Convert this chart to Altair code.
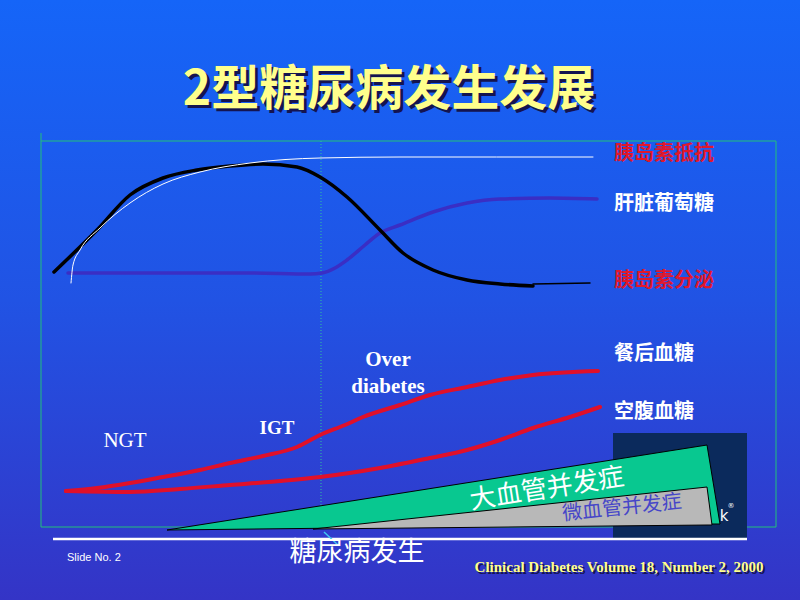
import altair as alt
import pandas as pd

W, H = 800, 600

# ---- data (x rightwards, y downwards, slide units) ----
resist_x = [71, 73, 80, 100, 130, 163, 200, 250, 320, 400, 593]
resist_y = [283, 265, 250, 228, 203, 184, 172, 163, 158, 157, 157]

secr_x = [54, 97, 130, 163, 197, 230, 263, 297, 320, 347, 380, 403, 433, 467, 500, 533]
secr_y = [272, 230, 195, 178, 170, 166, 164, 167, 177, 197, 230, 253, 270, 280, 284, 286]
secr_tail_x = [533, 590]
secr_tail_y = [284, 283]

liver_x = [68, 150, 250, 310, 322, 335, 347, 365, 380, 400, 433, 467, 500, 550, 597]
liver_y = [273, 273, 273, 274, 273, 268, 260, 245, 233, 225, 212, 203, 199, 198, 199]

pp_x = [66, 97, 130, 163, 200, 230, 263, 297, 320, 345, 363, 400, 430, 467, 500, 533, 598]
pp_y = [491, 488, 483, 477, 470, 463, 456, 447, 435, 425, 417, 405, 395, 387, 380, 375, 371]

fp_x = [66, 130, 180, 230, 280, 320, 380, 430, 467, 500, 533, 570, 600]
fp_y = [491, 492, 489, 485, 481, 477, 468, 458, 450, 440, 428, 417, 407]

# complication wedges: x, top edge, bottom edge
macro_x = [167, 707, 720]
macro_top = [530, 445, 524]
macro_bot = [530, 524, 524]
micro_x = [313, 707, 712]
micro_top = [529, 487, 525]
micro_bot = [529, 525, 525]

right_labels = ["胰岛素抵抗", "肝脏葡萄糖", "胰岛素分泌", "餐后血糖", "空腹血糖"]
right_label_y = [154, 204, 281, 354, 412]
right_label_col = ["#E0182C", "#FFFFFF", "#E0182C", "#FFFFFF", "#FFFFFF"]

title_text = "2型糖尿病发生发展"
footer_text = "Clinical  Diabetes Volume 18, Number 2, 2000"

# ---- helpers ----
def X(f="x"):
    return alt.X(f"{f}:Q", scale=alt.Scale(domain=[0, W]), axis=None)

def Y(f="y"):
    return alt.Y(f"{f}:Q", scale=alt.Scale(domain=[H, 0]), axis=None)

def curve(xs, ys, color, width, interp="monotone", dash=None):
    df = pd.DataFrame({"x": xs, "y": ys, "o": list(range(len(xs)))})
    kw = dict(color=color, strokeWidth=width, interpolate=interp, strokeCap="round")
    if dash:
        kw["strokeDash"] = dash
    return alt.Chart(df).mark_line(**kw).encode(x=X(), y=Y(), order="o:Q")

def segs(rows, color, width, dash=None):
    df = pd.DataFrame(rows, columns=["x", "y", "x2", "y2"])
    kw = dict(color=color, strokeWidth=width)
    if dash:
        kw["strokeDash"] = dash
    return alt.Chart(df).mark_rule(**kw).encode(
        x=X(), y=Y(), x2=alt.X2("x2:Q"), y2=alt.Y2("y2:Q"))

def text(items, **kw):
    df = pd.DataFrame(items, columns=["x", "y", "t"])
    return alt.Chart(df).mark_text(**kw).encode(x=X(), y=Y(), text="t:N")

def wedge(xs, top, bot, fill):
    df = pd.DataFrame({"x": xs, "y": top, "y2": bot})
    return alt.Chart(df).mark_area(color=fill, stroke="#000000", strokeWidth=1,
                                   interpolate="linear", opacity=1).encode(
        x=X(), y=Y(), y2=alt.Y2("y2:Q"))

CJK = "Noto Sans CJK SC"
SERIF = "Liberation Serif"

layers = []

# background gradient
bg = pd.DataFrame({"x": [0], "x2": [W], "y": [0], "y2": [H]})
grad = {"gradient": "linear", "x1": 0, "y1": 0, "x2": 0, "y2": 1,
        "stops": [{"offset": 0, "color": "#1565F8"},
                  {"offset": 0.5, "color": "#2153E4"},
                  {"offset": 1, "color": "#3434C6"}]}
layers.append(alt.Chart(bg).mark_rect(color=grad).encode(
    x=X(), x2=alt.X2("x2:Q"), y=Y(), y2=alt.Y2("y2:Q")))

# title with shadow
layers.append(text([(392, 94, title_text)], font=CJK, fontSize=48, fontWeight="bold",
                   color="#141450", align="center", baseline="middle"))
layers.append(text([(389, 91, title_text)], font=CJK, fontSize=48, fontWeight="bold",
                   color="#FFFF8C", align="center", baseline="middle"))

# frame
layers.append(segs([(41, 133, 41, 527), (41, 141, 776, 141), (776, 141, 776, 527),
                    (41, 527, 776, 527)], "#22C07A", 1))
layers.append(segs([(321, 141, 321, 530)], "#30C0A0", 1, dash=[1, 2]))

# curves
layers.append(curve(liver_x, liver_y, "#3A2EC4", 3.5))
layers.append(curve(secr_x, secr_y, "#000000", 3.5))
layers.append(curve(secr_tail_x, secr_tail_y, "#000000", 1.5, interp="linear"))
layers.append(curve(resist_x, resist_y, "#FFFFFF", 1))
layers.append(curve(pp_x, pp_y, "#E0102A", 4))
layers.append(curve(fp_x, fp_y, "#E0102A", 4))

# right labels
for t, y, c in zip(right_labels, right_label_y, right_label_col):
    layers.append(text([(614, y, t)], font=CJK, fontSize=20, fontWeight="bold",
                       color=c, align="left", baseline="middle"))

# stage labels
layers.append(text([(388, 360, "Over"), (388, 387, "diabetes")], font=SERIF, fontSize=21,
                   fontWeight="bold", color="#FFFFFF", align="center", baseline="middle"))
layers.append(text([(277, 428, "IGT")], font=SERIF, fontSize=19, fontWeight="bold",
                   color="#FFFFFF", align="center", baseline="middle"))
layers.append(text([(125, 441, "NGT")], font=SERIF, fontSize=21,
                   color="#FFFFFF", align="center", baseline="middle"))

# navy box
nb = pd.DataFrame({"x": [613], "x2": [747], "y": [433], "y2": [538]})
layers.append(alt.Chart(nb).mark_rect(color="#0B2A5C").encode(
    x=X(), x2=alt.X2("x2:Q"), y=Y(), y2=alt.Y2("y2:Q")))
layers.append(text([(724, 516, "k")], font="DejaVu Sans", fontSize=15,
                   color="#FFFFFF", align="center", baseline="middle"))
layers.append(text([(731, 506, "®")], font="DejaVu Sans", fontSize=7,
                   color="#FFFFFF", align="center", baseline="middle"))

# complication wedges
layers.append(wedge(macro_x, macro_top, macro_bot, "#08C890"))
layers.append(wedge(micro_x, micro_top, micro_bot, "#B8B8B8"))
layers.append(text([(547, 489, "大血管并发症")], font=CJK, fontSize=26, angle=351,
                   color="#FFFFFF", align="center", baseline="middle"))
layers.append(text([(622, 508, "微血管并发症")], font=CJK, fontSize=20, angle=354,
                   color="#4646C8", align="center", baseline="middle"))

# baseline and onset label
layers.append(segs([(53, 539, 747, 539)], "#FFFFFF", 2.5))
layers.append(segs([(338, 545, 324, 532)], "#40C8F0", 1.5))
layers.append(text([(357, 553, "糖尿病发生")], font=CJK, fontSize=27,
                   color="#FFFFFF", align="center", baseline="middle"))

# footer
layers.append(text([(67, 558, "Slide  No. 2")], font="Liberation Sans", fontSize=11,
                   color="#FFFFFF", align="left", baseline="middle"))
layers.append(text([(621, 569, footer_text)], font=SERIF, fontSize=15, fontWeight="bold",
                   color="#141450", align="center", baseline="middle"))
layers.append(text([(619, 567, footer_text)], font=SERIF, fontSize=15, fontWeight="bold",
                   color="#FFFF8C", align="center", baseline="middle"))

chart = alt.layer(*layers).properties(
    width=W, height=H, padding=0, autosize=alt.AutoSizeParams(type="none"),
    background="#2452E0",
).configure_view(stroke=None)

chart.save("out.html", embed_options={"renderer": "svg", "actions": False})
